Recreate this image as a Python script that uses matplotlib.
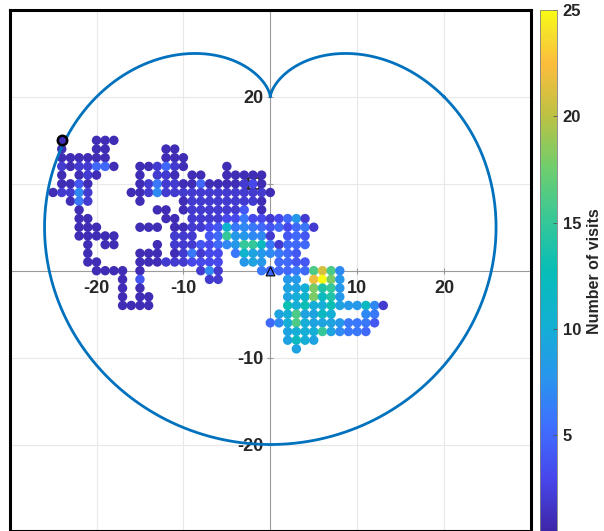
import numpy as np
import matplotlib
matplotlib.use("Agg")
import matplotlib.pyplot as plt
from matplotlib.colors import LinearSegmentedColormap, Normalize

# ---------------- data: visits per lattice site, row by row (y: {x: visits}) -------------
visits_by_row = {
    15: {-24: 1, -20: 1, -19: 1, -18: 1},
    14: {-24: 1, -20: 1, -19: 1, -12: 1, -11: 1},
    13: {-24: 1, -23: 1, -22: 1, -21: 1, -20: 1, -19: 1, -12: 1, -11: 1, -10: 1},
    12: {-24: 2, -23: 1, -22: 2, -21: 2, -20: 5, -19: 5, -18: 1, -15: 1, -14: 1, -13: 2,
         -12: 5, -11: 2, -10: 1, -5: 1},
    11: {-24: 1, -22: 1, -21: 2, -20: 1, -15: 1, -13: 2, -12: 2, -11: 1, -9: 1, -8: 1,
         -5: 1, -4: 1, -3: 1, -2: 1, -1: 1},
    10: {-24: 1, -23: 1, -22: 4, -21: 1, -15: 1, -14: 2, -13: 6, -12: 2, -11: 2, -10: 1,
         -9: 1, -8: 5, -7: 1, -6: 1, -5: 1, -4: 1, -3: 2, -2: 3, -1: 1},
    9: {-25: 1, -24: 2, -23: 2, -22: 7, -21: 2, -16: 1, -15: 1, -14: 2, -13: 7, -12: 2,
        -11: 2, -10: 2, -9: 2, -8: 2, -7: 2, -6: 2, -5: 2, -4: 2, -3: 2, -2: 2, -1: 2, 0: 1},
    8: {-23: 1, -22: 6, -21: 2, -15: 1, -10: 1, -9: 2, -8: 2, -7: 2, -6: 2, -5: 2, -4: 2,
        -3: 2, -2: 2, -1: 1},
    7: {-22: 1, -13: 1, -12: 1, -10: 1, -9: 2, -8: 2, -7: 2, -6: 2, -5: 2, -4: 2, -3: 4,
        -1: 1},
    6: {-22: 1, -21: 1, -12: 1, -11: 1, -9: 2, -8: 2, -7: 2, -6: 2, -5: 3, -4: 3, -3: 6,
        -2: 3, -1: 3, 0: 2, 1: 3, 2: 5, 3: 8, 4: 2},
    5: {-22: 1, -21: 1, -20: 1, -15: 1, -14: 1, -13: 1, -11: 1, -10: 1, -9: 2, -8: 2,
        -7: 3, -6: 4, -5: 11, -4: 6, -3: 7, -2: 6, -1: 5, 0: 4, 1: 5, 2: 3, 3: 5, 4: 6, 5: 2},
    4: {-22: 1, -21: 1, -20: 1, -19: 1, -18: 1, -11: 2, -10: 2, -9: 2, -7: 4, -6: 5,
        -5: 15, -4: 8, -3: 8, -2: 7, -1: 7, 0: 2, 2: 4, 3: 5, 4: 4},
    3: {-21: 1, -19: 1, -18: 1, -13: 1, -11: 2, -10: 2, -9: 2, -8: 4, -7: 3, -6: 5,
        -5: 7, -4: 8, -3: 15, -2: 15, -1: 12, 0: 6, 1: 2, 2: 5, 3: 5, 4: 5},
    2: {-21: 1, -15: 1, -14: 1, -13: 1, -11: 1, -10: 2, -9: 6, -8: 2, -7: 3, -6: 3,
        -4: 6, -3: 11, -2: 9, -1: 8, 0: 7, 1: 6, 2: 5, 3: 4},
    1: {-21: 1, -20: 1, -15: 1, -14: 1, -13: 1, -12: 2, -11: 2, -10: 2, -9: 3, -8: 3,
        -7: 3, -6: 3, -3: 8, -2: 9, -1: 8, 1: 5, 2: 5, 3: 4, 4: 4},
    0: {-20: 1, -19: 1, -18: 1, -17: 1, -15: 1, -8: 2, -7: 7, -6: 2, -1: 6, 0: 5,
        1: 5, 2: 5, 3: 6, 4: 5, 5: 16, 6: 21, 7: 16, 8: 7},
    -1: {-17: 1, -15: 4, -7: 2, -6: 2, 2: 8, 3: 8, 5: 22, 6: 25, 7: 18, 8: 8},
    -2: {-17: 1, -15: 1, 2: 9, 3: 9, 4: 10, 5: 18, 6: 14, 7: 15, 8: 8},
    -3: {-17: 1, -15: 1, -14: 1, 2: 9, 3: 10, 4: 11, 5: 18, 6: 12, 7: 14, 8: 8},
    -4: {-17: 1, -16: 1, -15: 1, -14: 1, 2: 13, 3: 10, 4: 13, 5: 10, 6: 10, 7: 13,
         8: 9, 9: 8, 10: 8, 11: 12, 12: 7, 13: 2},
    -5: {1: 9, 2: 10, 3: 16, 4: 9, 5: 9, 6: 12, 7: 10, 11: 7, 12: 6},
    -6: {0: 5, 1: 7, 2: 10, 3: 16, 4: 10, 5: 9, 6: 9, 7: 9, 8: 8, 9: 6, 10: 6,
         11: 6, 12: 4},
    -7: {2: 9, 3: 10, 4: 10, 5: 10, 6: 15, 7: 9, 8: 7, 9: 6, 10: 6, 11: 5},
    -8: {2: 9, 3: 12, 4: 10, 5: 9},
    -9: {3: 9},
}

start_point = (0, 0)      # triangle
end_point = (-24, 15)     # circle (exit on boundary)
cardioid_radius = 20      # cusp at (0, 20), bottom at (0, -20)

tick_values = [-20, -10, 10, 20]
cbar_ticks = [5, 10, 15, 20, 25]
cbar_label = "Number of visits"

# ---------------- colormap (parula-like) ----------------
parula_pts = [
    (0.00, (0.2422, 0.1504, 0.6603)),
    (0.10, (0.2803, 0.2782, 0.9221)),
    (0.20, (0.2440, 0.4358, 0.9988)),
    (0.30, (0.1540, 0.5902, 0.9218)),
    (0.40, (0.0704, 0.6928, 0.8295)),
    (0.50, (0.0265, 0.7406, 0.7179)),
    (0.60, (0.2161, 0.7843, 0.5923)),
    (0.70, (0.4420, 0.8062, 0.4250)),
    (0.80, (0.7394, 0.7591, 0.2612)),
    (0.90, (0.9942, 0.7423, 0.2380)),
    (0.95, (0.9639, 0.8608, 0.1817)),
    (1.00, (0.9769, 0.9839, 0.0805)),
]
parula = LinearSegmentedColormap.from_list("parula", parula_pts)

xs, ys, vs = [], [], []
for yy, row in visits_by_row.items():
    for xx, v in row.items():
        xs.append(xx); ys.append(yy); vs.append(v)
xs = np.array(xs); ys = np.array(ys); vs = np.array(vs)

plt.rcParams['font.family'] = ['Liberation Sans', 'DejaVu Sans']
plt.rcParams['axes.unicode_minus'] = False

W, H = 604, 531
fig = plt.figure(figsize=(W / 100, H / 100), dpi=100)

ax_l, ax_t, ax_w = 9.6, 10, 521.4
ax_h = 521.4
pos = [ax_l / W, (H - ax_t - ax_h) / H, ax_w / W, ax_h / H]
ax = fig.add_axes(pos)
ax.set_xlim(-30, 30)
ax.set_ylim(-30, 30)
ax.set_axisbelow(True)

norm = Normalize(vmin=0.48, vmax=25)

ax.grid(True, color='#e8e8e8', linewidth=0.8)
ax.set_xticks(tick_values)
ax.set_yticks(tick_values)
for side in ['top', 'right']:
    ax.spines[side].set_visible(False)
for side in ['left', 'bottom']:
    ax.spines[side].set_position('zero')
    ax.spines[side].set_color('#9a9a9a')
    ax.spines[side].set_linewidth(0.8)
    ax.spines[side].set_zorder(0.6)
ax.tick_params(axis='both', direction='inout', length=4, width=0.8, color='#9a9a9a',
               labelsize=13, labelcolor='#262626')
ax.tick_params(axis='x', pad=5)
ax.tick_params(axis='y', pad=3)
for lab in ax.get_xticklabels() + ax.get_yticklabels():
    lab.set_fontweight('bold')

sc = ax.scatter(xs, ys, c=vs, cmap=parula, norm=norm, s=46, linewidths=0, zorder=2)

theta = np.linspace(0, 2 * np.pi, 1000)
r = cardioid_radius * (1 - np.sin(theta))
ax.plot(r * np.cos(theta), cardioid_radius + r * np.sin(theta),
        color=(0, 0.447, 0.741), linewidth=2.0, zorder=3)

ev = visits_by_row[end_point[1]][end_point[0]]
sv = visits_by_row[start_point[1]][start_point[0]]
ax.scatter([end_point[0]], [end_point[1]], c=[ev], cmap=parula, norm=norm, s=46,
           edgecolors='black', linewidths=1.8, zorder=4)
ax.scatter([start_point[0]], [start_point[1]], c=[sv], cmap=parula, norm=norm,
           marker='^', s=40, edgecolors='black', linewidths=0.8, zorder=4)

# frame
axf = fig.add_axes(pos, facecolor='none')
axf.set_xticks([]); axf.set_yticks([])
for s in axf.spines.values():
    s.set_linewidth(2.2)
    s.set_color('black')
axf.set_zorder(5)

# colorbar
cax = fig.add_axes([540 / W, (H - 10 - 521.4) / H, 17 / W, 521.4 / H])
cb = fig.colorbar(sc, cax=cax, ticks=cbar_ticks)
cb.outline.set_linewidth(0.6)
cb.outline.set_edgecolor('#808080')
cax.tick_params(direction='in', length=3, width=0.6, color='#555555', labelsize=12,
                labelcolor='#262626', pad=4)
for lab in cax.get_yticklabels():
    lab.set_fontweight('bold')
cb.set_label(cbar_label, fontsize=11.5, fontweight='bold', color='#262626', labelpad=4)

fig.savefig("out.png", dpi=100)
